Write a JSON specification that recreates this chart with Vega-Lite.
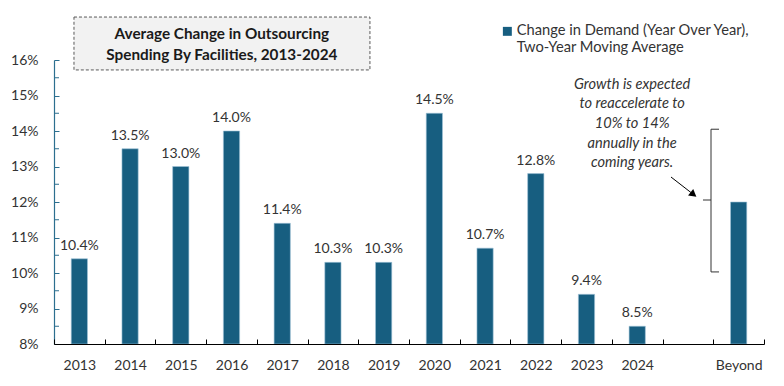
{
  "$schema": "https://vega.github.io/schema/vega-lite/v6.json",
  "width": 710,
  "height": 284,
  "autosize": {"type": "none"},
  "padding": {"left": 54, "top": 60, "right": 20, "bottom": 42},
  "background": "white",
  "config": {
    "view": {"stroke": null},
    "font": "Lato",
    "axis": {"grid": false, "labelFont": "Lato", "labelFontSize": 14, "labelColor": "#333333", "title": null},
    "axisY": {"labelOverlap": false, "domainColor": "#2c6f8f", "domainWidth": 1.2, "tickColor": "#2c6f8f", "tickSize": -5, "labelPadding": 21, "zindex": 1, "format": ".0%"},
    "text": {"font": "Lato"}
  },
  "datasets": {
    "main": [
      {"year": "2013", "value": 0.104},
      {"year": "2014", "value": 0.135},
      {"year": "2015", "value": 0.130},
      {"year": "2016", "value": 0.140},
      {"year": "2017", "value": 0.114},
      {"year": "2018", "value": 0.103},
      {"year": "2019", "value": 0.103},
      {"year": "2020", "value": 0.145},
      {"year": "2021", "value": 0.107},
      {"year": "2022", "value": 0.128},
      {"year": "2023", "value": 0.094},
      {"year": "2024", "value": 0.085},
      {"year": "Beyond", "value": 0.120}
    ],
    "minor": [
      {"x": 0, "x2": 0.0986, "y": 0.085},
      {"x": 0, "x2": 0.0986, "y": 0.095},
      {"x": 0, "x2": 0.0986, "y": 0.105},
      {"x": 0, "x2": 0.0986, "y": 0.115},
      {"x": 0, "x2": 0.0986, "y": 0.125},
      {"x": 0, "x2": 0.0986, "y": 0.135},
      {"x": 0, "x2": 0.0986, "y": 0.145},
      {"x": 0, "x2": 0.0986, "y": 0.155}
    ],
    "titlebox": [{"x": 0.394, "x2": 6.23, "y": 0.1721, "y2": 0.1572}],
    "titletext": [
      {"x": 3.31, "y": 0.16732, "t": "Average Change in Outsourcing"},
      {"x": 3.31, "y": 0.16141, "t": "Spending By Facilities, 2013-2024"}
    ],
    "note": [
      {"x": 11.40, "y": 0.15296, "t": "Growth is expected"},
      {"x": 11.40, "y": 0.14761, "t": "to reaccelerate to"},
      {"x": 11.40, "y": 0.14197, "t": "10% to 14%"},
      {"x": 11.40, "y": 0.13634, "t": "annually in the"},
      {"x": 11.40, "y": 0.13099, "t": "coming years."}
    ],
    "bracket": [
      {"x": 12.955, "x2": 12.955, "y": 0.1405, "y2": 0.1003},
      {"x": 12.955, "x2": 13.113, "y": 0.1405, "y2": 0.1405},
      {"x": 12.955, "x2": 13.113, "y": 0.1003, "y2": 0.1003},
      {"x": 12.797, "x2": 12.955, "y": 0.12056, "y2": 0.12056}
    ],
    "arrow": [{"x": 12.166, "y": 0.12704, "x2": 12.61, "y2": 0.12211}],
    "arrowhead": [{"x": 12.61, "y": 0.12211}]
  },
  "resolve": {"scale": {"x": "independent"}},
  "layer": [
    {
      "data": {"name": "main"},
      "mark": {"type": "bar", "width": {"band": 0.32}, "stroke": "#9fc3d6", "strokeWidth": 0.6},
      "encoding": {
        "x": {
          "field": "year", "type": "nominal", "sort": null,
          "scale": {"domain": ["2013","2014","2015","2016","2017","2018","2019","2020","2021","2022","2023","2024"," ","Beyond"], "paddingInner": 0, "paddingOuter": 0},
          "axis": {"labelAngle": 0, "domainColor": "#000000", "domainWidth": 1, "tickColor": "#000000", "tickSize": -5, "tickBand": "extent", "labelPadding": 19, "zindex": 1}
        },
        "y": {
          "field": "value", "type": "quantitative", "title": null,
          "scale": {"domain": [0.08, 0.16], "nice": false, "zero": false},
          "axis": {"values": [0.08, 0.09, 0.1, 0.11, 0.12, 0.13, 0.14, 0.15, 0.16], "labelOverlap": false, "format": ".0%"}
        },
        "y2": {"datum": 0.08},
        "color": {
          "datum": "Change in Demand (Year Over Year), Two-Year Moving Average",
          "type": "nominal",
          "scale": {"range": ["#175e80"]},
          "legend": {
            "title": null, "orient": "none", "legendX": 446, "legendY": -36,
            "symbolType": "square", "symbolSize": 80, "symbolStrokeWidth": 0,
            "labelFont": "Lato", "labelFontSize": 14.7, "labelColor": "#333333", "labelLimit": 400,
            "labelBaseline": "middle", "labelOffset": 2,
            "labelExpr": "['Change in Demand (Year Over Year),', 'Two-Year Moving Average']"
          }
        }
      }
    },
    {
      "data": {"name": "main"},
      "transform": [{"filter": "datum.year != 'Beyond'"}],
      "mark": {"type": "text", "baseline": "bottom", "dy": -6, "fontSize": 14, "color": "#333333"},
      "encoding": {
        "x": {"field": "year", "type": "nominal", "sort": null, "scale": {"domain": ["2013","2014","2015","2016","2017","2018","2019","2020","2021","2022","2023","2024"," ","Beyond"], "paddingInner": 0, "paddingOuter": 0}, "axis": null},
        "y": {"field": "value", "type": "quantitative", "title": null, "scale": {"domain": [0.08, 0.16], "nice": false, "zero": false}, "axis": {"values": [0.08, 0.09, 0.1, 0.11, 0.12, 0.13, 0.14, 0.15, 0.16], "labelOverlap": false, "format": ".0%"}},
        "text": {"field": "value", "type": "quantitative", "format": ".1%"}
      }
    },
    {
      "data": {"name": "minor"},
      "mark": {"type": "rule", "color": "#2c6f8f", "strokeWidth": 1},
      "encoding": {
        "x": {"field": "x", "type": "quantitative", "scale": {"domain": [0, 14], "nice": false, "zero": false}, "axis": null},
        "x2": {"field": "x2"},
        "y": {"field": "y", "type": "quantitative", "title": null, "scale": {"domain": [0.08, 0.16], "nice": false, "zero": false}, "axis": {"values": [0.08, 0.09, 0.1, 0.11, 0.12, 0.13, 0.14, 0.15, 0.16], "labelOverlap": false, "format": ".0%"}}
      }
    },
    {
      "data": {"name": "titlebox"},
      "mark": {"type": "rect", "fill": "#f2f2f2", "stroke": "#595959", "strokeWidth": 1, "strokeDash": [3, 2]},
      "encoding": {
        "x": {"field": "x", "type": "quantitative", "scale": {"domain": [0, 14], "nice": false, "zero": false}, "axis": null},
        "x2": {"field": "x2"},
        "y": {"field": "y", "type": "quantitative", "title": null, "scale": {"domain": [0.08, 0.16], "nice": false, "zero": false}, "axis": {"values": [0.08, 0.09, 0.1, 0.11, 0.12, 0.13, 0.14, 0.15, 0.16], "labelOverlap": false, "format": ".0%"}},
        "y2": {"field": "y2"}
      }
    },
    {
      "data": {"name": "titletext"},
      "mark": {"type": "text", "fontSize": 15.3, "fontWeight": "bold", "color": "#1a1a1a", "baseline": "middle", "align": "center"},
      "encoding": {
        "x": {"field": "x", "type": "quantitative", "scale": {"domain": [0, 14], "nice": false, "zero": false}, "axis": null},
        "y": {"field": "y", "type": "quantitative", "title": null, "scale": {"domain": [0.08, 0.16], "nice": false, "zero": false}, "axis": {"values": [0.08, 0.09, 0.1, 0.11, 0.12, 0.13, 0.14, 0.15, 0.16], "labelOverlap": false, "format": ".0%"}},
        "text": {"field": "t"}
      }
    },
    {
      "data": {"name": "note"},
      "mark": {"type": "text", "fontSize": 14.6, "fontStyle": "italic", "color": "#333333", "baseline": "middle", "align": "center"},
      "encoding": {
        "x": {"field": "x", "type": "quantitative", "scale": {"domain": [0, 14], "nice": false, "zero": false}, "axis": null},
        "y": {"field": "y", "type": "quantitative", "title": null, "scale": {"domain": [0.08, 0.16], "nice": false, "zero": false}, "axis": {"values": [0.08, 0.09, 0.1, 0.11, 0.12, 0.13, 0.14, 0.15, 0.16], "labelOverlap": false, "format": ".0%"}},
        "text": {"field": "t"}
      }
    },
    {
      "data": {"name": "bracket"},
      "mark": {"type": "rule", "color": "#333333", "strokeWidth": 1},
      "encoding": {
        "x": {"field": "x", "type": "quantitative", "scale": {"domain": [0, 14], "nice": false, "zero": false}, "axis": null},
        "x2": {"field": "x2"},
        "y": {"field": "y", "type": "quantitative", "title": null, "scale": {"domain": [0.08, 0.16], "nice": false, "zero": false}, "axis": {"values": [0.08, 0.09, 0.1, 0.11, 0.12, 0.13, 0.14, 0.15, 0.16], "labelOverlap": false, "format": ".0%"}},
        "y2": {"field": "y2"}
      }
    },
    {
      "data": {"name": "arrow"},
      "mark": {"type": "rule", "color": "#000000", "strokeWidth": 1},
      "encoding": {
        "x": {"field": "x", "type": "quantitative", "scale": {"domain": [0, 14], "nice": false, "zero": false}, "axis": null},
        "x2": {"field": "x2"},
        "y": {"field": "y", "type": "quantitative", "title": null, "scale": {"domain": [0.08, 0.16], "nice": false, "zero": false}, "axis": {"values": [0.08, 0.09, 0.1, 0.11, 0.12, 0.13, 0.14, 0.15, 0.16], "labelOverlap": false, "format": ".0%"}},
        "y2": {"field": "y2"}
      }
    },
    {
      "data": {"name": "arrowhead"},
      "mark": {"type": "point", "shape": "triangle-right", "angle": 38, "size": 70, "filled": true, "color": "#000000", "opacity": 1},
      "encoding": {
        "x": {"field": "x", "type": "quantitative", "scale": {"domain": [0, 14], "nice": false, "zero": false}, "axis": null},
        "y": {"field": "y", "type": "quantitative", "title": null, "scale": {"domain": [0.08, 0.16], "nice": false, "zero": false}, "axis": {"values": [0.08, 0.09, 0.1, 0.11, 0.12, 0.13, 0.14, 0.15, 0.16], "labelOverlap": false, "format": ".0%"}}
      }
    }
  ]
}
